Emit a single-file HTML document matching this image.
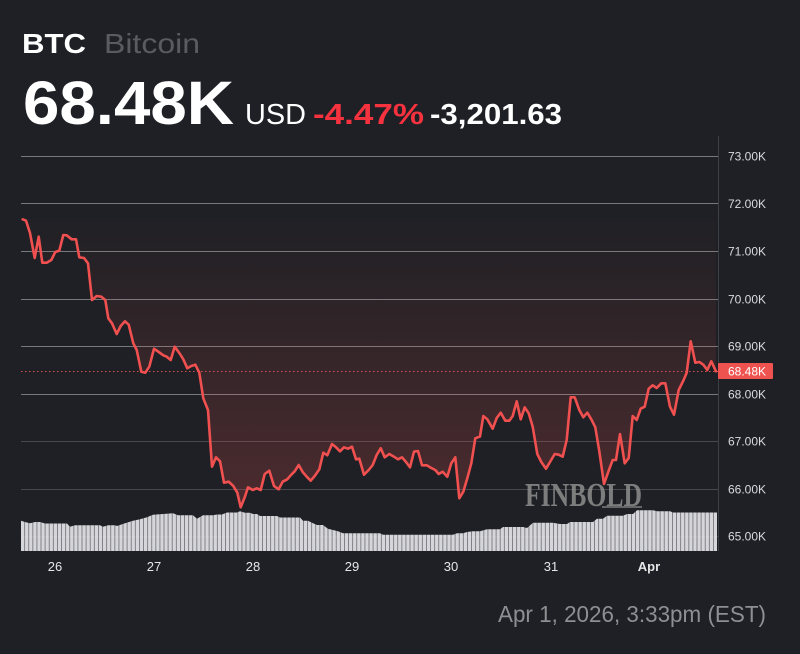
<!DOCTYPE html>
<html>
<head>
<meta charset="utf-8">
<style>
html,body{margin:0;padding:0;background:#1e2025;}
svg{display:block;}
text{font-family:"Liberation Sans",sans-serif;}
</style>
</head>
<body>
<svg width="800" height="654" viewBox="0 0 800 654" xmlns="http://www.w3.org/2000/svg">
<defs>
<linearGradient id="fillg" gradientUnits="userSpaceOnUse" x1="0" y1="205" x2="0" y2="510">
<stop offset="0" stop-color="#f0524f" stop-opacity="0"/>
<stop offset="1" stop-color="#f0524f" stop-opacity="0.22"/>
</linearGradient>
<pattern id="bars" patternUnits="userSpaceOnUse" x="21" y="0" width="4.1" height="654">
<rect x="0" y="0" width="3.3" height="654" fill="#d6d6da"/>
<rect x="3.3" y="0" width="0.8" height="654" fill="#7f8085"/>
</pattern>
</defs>
<rect width="800" height="654" fill="#1e2025"/>

<!-- Header -->
<text x="22" y="53" font-size="28" font-weight="bold" fill="#ffffff" textLength="64" lengthAdjust="spacingAndGlyphs">BTC</text>
<text x="104" y="53" font-size="28" fill="#5a5b60" textLength="96" lengthAdjust="spacingAndGlyphs">Bitcoin</text>
<text x="23" y="124" font-size="61" font-weight="bold" fill="#ffffff" textLength="211" lengthAdjust="spacingAndGlyphs">68.48K</text>
<text x="245" y="124" font-size="29" fill="#ffffff" textLength="61" lengthAdjust="spacingAndGlyphs">USD</text>
<text x="313" y="124" font-size="29" font-weight="bold" fill="#f7323f" textLength="111" lengthAdjust="spacingAndGlyphs">-4.47%</text>
<text x="430" y="124" font-size="29" font-weight="bold" fill="#ffffff" textLength="132" lengthAdjust="spacingAndGlyphs">-3,201.63</text>

<!-- Gridlines -->
<g stroke-width="1">
<line x1="21" y1="156.5" x2="718" y2="156.5" stroke="#77787c"/>
<line x1="21" y1="203.5" x2="718" y2="203.5" stroke="#77787c"/>
<line x1="21" y1="251.5" x2="718" y2="251.5" stroke="#77787c"/>
<line x1="21" y1="299.5" x2="718" y2="299.5" stroke="#77787c"/>
<line x1="21" y1="346.5" x2="718" y2="346.5" stroke="#77787c"/>
<line x1="21" y1="394.5" x2="718" y2="394.5" stroke="#77787c"/>
<line x1="21" y1="441.5" x2="718" y2="441.5" stroke="#46484d"/>
<line x1="21" y1="489.5" x2="718" y2="489.5" stroke="#46484d"/>
<line x1="21" y1="536.5" x2="718" y2="536.5" stroke="#46484d"/>
</g>

<!-- Area fill -->
<path fill="url(#fillg)" d="M22.7,219 L22.7,219.3 26,220.7 30,233 34.7,258 38.7,236.7 42.3,262.7 46.7,262.7 51.3,260 55.3,252 59.3,250.7 63.3,235 66.7,235.3 71.7,239.3 76,239.3 79.3,257.3 84,258 88,263.3 92,300 96.7,296 101.3,296.7 105.3,300 108.3,318.3 112,323.3 116.7,334 120.7,326 125,321.3 128.7,324.7 133.3,343.3 136.7,350 141.3,371.7 145.3,372.7 149.3,366.7 154,348.7 158.7,352 163.3,355.3 166.7,356.7 170.7,360 174.7,346.7 180,354 183.3,359.3 187.3,368.3 191.3,366 195.3,364.7 199.3,372.7 203.3,398.3 208,410 212,466.7 216,457.3 220,461.3 224,482.7 228.7,481.7 233.3,486 237.3,492.7 240.7,507.3 244.7,497.3 248,487.3 252.7,490 256.7,488.3 260.7,490 264.7,474 269.3,470.7 274,486 278.7,489.3 282.7,481.7 287.3,479.3 290.7,475.3 294.7,471.3 298.7,465 302.7,472 306.7,476.7 310.7,480.7 314.7,476 319.3,469.3 323.3,452.7 327.3,455.3 332,444 336,447.3 340,451.3 344,447.3 348,448.7 352,446.7 356,459.3 359.3,458.7 364,474.7 368.7,470 372.7,465 376.7,455 380.7,448.3 384.7,457.3 389.3,454 394,456.7 398,459.3 402,457.3 406,462 410,467.3 414,451.7 418,451 422,465.3 426.7,465.3 431.3,468 435.3,470 438.7,474 442.7,471.7 447.3,476.7 451.3,463.3 455.3,457.3 459.3,498.3 463.3,491.7 467.3,478.3 471.3,463.3 475.3,438.3 480,436.5 483.3,416 487.3,419.3 492.7,428.7 496.7,418 500.7,412.7 505.3,420.7 509.3,420.7 512.7,416 516.7,401.3 520.7,419.3 524.7,407.3 528.7,413.3 532.7,426.7 537.3,454 541.3,462 546,468.7 550,462 554.7,454 558.7,454.7 562.7,456.7 566.7,440 570.7,397.3 574.7,397.3 579.3,410 583.3,417.3 587.3,412.7 591.3,419.3 595.3,427.3 599.3,451.3 604,484 608.7,470.7 612.7,460 616,460 620,434 624.7,463.3 628.7,458 632.7,416 636.7,420 640.7,408.7 644.7,406.7 648.7,388.7 652.7,385.3 656.7,388 661.3,383.3 665.3,383.3 670,406.7 674,414.7 678.7,390 683.3,380.7 686.7,372.7 690.7,341.3 695.3,362.7 699.3,362 703.3,364.7 707.3,370 711.3,361.3 716,371.3 L716,219 Z"/>

<!-- Volume bars -->
<polygon fill="url(#bars)" points="21,551 21,520.7 25,522 30,523.3 35,522 40,522 45,523.5 67,523.5 70,526.7 75,525.3 100,525.3 103,526.7 108,525.3 115,525.3 117,526 125,523.3 133,520.7 140,519.3 147,517.3 153,514.7 173,513.3 178,515.3 193,515.3 197,518.7 203,515.3 213,515.3 217,514.5 222,514.5 227,512.5 237,512.5 240,511.3 245,512.7 250,512.7 253,514 257,514 260,516 277,516 280,517.5 300,517.5 303,520.7 308,520.7 312,522.7 317,525 323,525 328,528.7 333,530 338,531.3 343,533.3 380,533.3 383,534.7 453,534.7 457,533.3 463,533.3 467,532 473,531.3 480,531.3 487,529.3 500,529.3 503,527 523,527 527,528 533,522.7 553,522.7 560,524 567,524 570,522 593,522 597,518.7 603,518.7 607,515.7 623,515.7 627,514 633,514 637,510.3 653,510.3 657,511.3 670,511.3 673,512.5 717,512.5 717,551"/>
<line x1="21" y1="537" x2="717" y2="537" stroke="#ffffff" stroke-opacity="0.12" stroke-width="1"/>

<!-- Watermark -->
<text x="525" y="506" font-size="34" font-weight="bold" fill="#8e8e8e" fill-opacity="0.85" textLength="117" lengthAdjust="spacingAndGlyphs" style="font-family:'Liberation Serif',serif">FINBOLD</text>
<line x1="602" y1="507" x2="642" y2="507" stroke="#8e8e8e" stroke-width="1.5" stroke-opacity="0.85"/>

<!-- Current price dotted line -->
<line x1="21" y1="371.5" x2="718" y2="371.5" stroke="#ef5350" stroke-width="1" stroke-dasharray="1.5,2.5" stroke-opacity="0.9"/>

<!-- Price line -->
<polyline fill="none" stroke="#f0504f" stroke-width="2.6" stroke-linejoin="round" stroke-linecap="round" points="22.7,219.3 26,220.7 30,233 34.7,258 38.7,236.7 42.3,262.7 46.7,262.7 51.3,260 55.3,252 59.3,250.7 63.3,235 66.7,235.3 71.7,239.3 76,239.3 79.3,257.3 84,258 88,263.3 92,300 96.7,296 101.3,296.7 105.3,300 108.3,318.3 112,323.3 116.7,334 120.7,326 125,321.3 128.7,324.7 133.3,343.3 136.7,350 141.3,371.7 145.3,372.7 149.3,366.7 154,348.7 158.7,352 163.3,355.3 166.7,356.7 170.7,360 174.7,346.7 180,354 183.3,359.3 187.3,368.3 191.3,366 195.3,364.7 199.3,372.7 203.3,398.3 208,410 212,466.7 216,457.3 220,461.3 224,482.7 228.7,481.7 233.3,486 237.3,492.7 240.7,507.3 244.7,497.3 248,487.3 252.7,490 256.7,488.3 260.7,490 264.7,474 269.3,470.7 274,486 278.7,489.3 282.7,481.7 287.3,479.3 290.7,475.3 294.7,471.3 298.7,465 302.7,472 306.7,476.7 310.7,480.7 314.7,476 319.3,469.3 323.3,452.7 327.3,455.3 332,444 336,447.3 340,451.3 344,447.3 348,448.7 352,446.7 356,459.3 359.3,458.7 364,474.7 368.7,470 372.7,465 376.7,455 380.7,448.3 384.7,457.3 389.3,454 394,456.7 398,459.3 402,457.3 406,462 410,467.3 414,451.7 418,451 422,465.3 426.7,465.3 431.3,468 435.3,470 438.7,474 442.7,471.7 447.3,476.7 451.3,463.3 455.3,457.3 459.3,498.3 463.3,491.7 467.3,478.3 471.3,463.3 475.3,438.3 480,436.5 483.3,416 487.3,419.3 492.7,428.7 496.7,418 500.7,412.7 505.3,420.7 509.3,420.7 512.7,416 516.7,401.3 520.7,419.3 524.7,407.3 528.7,413.3 532.7,426.7 537.3,454 541.3,462 546,468.7 550,462 554.7,454 558.7,454.7 562.7,456.7 566.7,440 570.7,397.3 574.7,397.3 579.3,410 583.3,417.3 587.3,412.7 591.3,419.3 595.3,427.3 599.3,451.3 604,484 608.7,470.7 612.7,460 616,460 620,434 624.7,463.3 628.7,458 632.7,416 636.7,420 640.7,408.7 644.7,406.7 648.7,388.7 652.7,385.3 656.7,388 661.3,383.3 665.3,383.3 670,406.7 674,414.7 678.7,390 683.3,380.7 686.7,372.7 690.7,341.3 695.3,362.7 699.3,362 703.3,364.7 707.3,370 711.3,361.3 716,371.3"/>

<!-- Right axis -->
<line x1="718.5" y1="136" x2="718.5" y2="551" stroke="#3c3f46" stroke-width="1"/>
<g font-size="12" fill="#d9dadd">
<text x="728" y="160.5">73.00K</text>
<text x="728" y="208">72.00K</text>
<text x="728" y="255.5">71.00K</text>
<text x="728" y="303.5">70.00K</text>
<text x="728" y="350.5">69.00K</text>
<text x="728" y="398.5">68.00K</text>
<text x="728" y="445.5">67.00K</text>
<text x="728" y="493.5">66.00K</text>
<text x="728" y="540.5">65.00K</text>
</g>
<rect x="718" y="363" width="55" height="16" fill="#ef5350" rx="1"/>
<text x="728" y="375.5" font-size="12" fill="#ffffff">68.48K</text>

<!-- X axis labels -->
<g font-size="13" fill="#e6e6e8" text-anchor="middle">
<text x="55" y="571">26</text>
<text x="154" y="571">27</text>
<text x="253" y="571">28</text>
<text x="352" y="571">29</text>
<text x="451" y="571">30</text>
<text x="551" y="571">31</text>
<text x="649" y="571" font-weight="bold">Apr</text>
</g>

<!-- Footer -->
<text x="498" y="622" font-size="23" fill="#8f8f93" textLength="268" lengthAdjust="spacingAndGlyphs">Apr 1, 2026, 3:33pm (EST)</text>
</svg>
</body>
</html>
